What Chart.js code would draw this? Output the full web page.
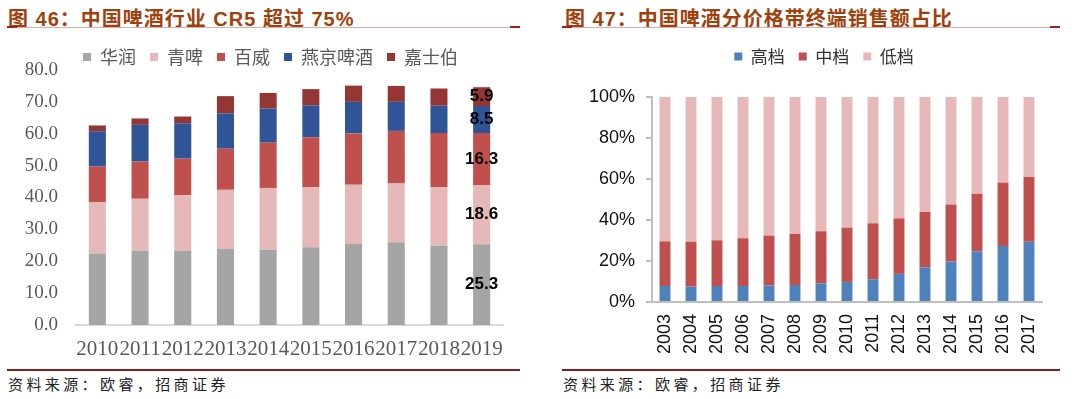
<!DOCTYPE html>
<html>
<head>
<meta charset="utf-8">
<script src="https://cdn.jsdelivr.net/npm/chart.js@4.4.1/dist/chart.umd.min.js"></script>
<style>
  body { margin: 0; width: 1080px; height: 399px; background: #fff; position: relative; overflow: hidden; }
  .title { position: absolute; top: 3px; font: bold 20px "Liberation Sans", "Noto Sans CJK SC", sans-serif; color: #A0410D; white-space: nowrap; letter-spacing: 1px; }
  .tline { position: absolute; top: 27px; height: 1px; background: #E3A9A9; }
  .tline::before, .tline::after { content: ""; position: absolute; top: -1px; width: 10px; height: 2px; background: #A31E1E; }
  .tline::before { left: 0; }
  .tline::after { right: 0; }
  .fline { position: absolute; top: 369px; height: 2px; background: #8B1A1A; }
  .src { position: absolute; top: 373px; font: 15px "Noto Sans CJK SC", sans-serif; color: #222; letter-spacing: 3.4px; white-space: nowrap; }
  canvas { position: absolute; }
</style>
</head>
<body>
<div class="title" style="left:8px">图 46：中国啤酒行业 CR5 超过 75%</div>
<div class="tline" style="left:7px;width:513px"></div>
<div class="title" style="left:565px">图 47：中国啤酒分价格带终端销售额占比</div>
<div class="tline" style="left:562px;width:498px"></div>

<div style="position:absolute;left:0;top:34px;width:540px;height:331px"><canvas id="cr5"></canvas></div>
<div style="position:absolute;left:568px;top:34px;width:512px;height:331px"><canvas id="price"></canvas></div>

<div class="fline" style="left:7px;width:513px"></div>
<div class="src" style="left:8px">资料来源：欧睿，招商证券</div>
<div class="fline" style="left:562px;width:498px"></div>
<div class="src" style="left:563px">资料来源：欧睿，招商证券</div>

<script>
// 图 46 data (share, %)
const years46 = ['2010', '2011', '2012', '2013', '2014', '2015', '2016', '2017', '2018', '2019'];
const huarun = [22.4, 23.3, 23.3, 23.9, 23.6, 24.4, 25.6, 26.0, 24.9, 25.3];
const qingpi = [16.2, 16.3, 17.4, 18.5, 19.4, 18.8, 18.4, 18.4, 18.4, 18.6];
const baiwei = [11.1, 11.7, 11.5, 12.9, 14.2, 15.7, 16.1, 16.5, 16.9, 16.3];
const yanjing = [11.1, 11.5, 11.1, 11.1, 10.7, 10.0, 9.9, 9.1, 8.6, 8.5];
const jiashibo = [1.8, 2.0, 2.1, 5.4, 4.9, 5.1, 5.1, 5.0, 5.4, 5.9];
const yTicks46 = ['0.0', '10.0', '20.0', '30.0', '40.0', '50.0', '60.0', '70.0', '80.0'];

// 图 47 data (share of sales, %)
const years47 = ['2003', '2004', '2005', '2006', '2007', '2008', '2009', '2010', '2011', '2012', '2013', '2014', '2015', '2016', '2017'];
const high = [7.8, 7.5, 7.8, 7.8, 8.1, 8.3, 9.1, 9.8, 11.1, 13.7, 16.9, 19.8, 24.7, 27.3, 29.4];
const mid = [21.8, 21.9, 22.3, 23.3, 24.3, 24.9, 25.4, 26.5, 27.3, 27.1, 27.0, 27.7, 28.1, 30.9, 31.6];
const low = [70.4, 70.6, 69.9, 68.9, 67.6, 66.8, 65.5, 63.7, 61.6, 59.2, 56.1, 52.5, 47.2, 41.8, 39.0];
const yTicks47 = ['0%', '20%', '40%', '60%', '80%', '100%'];

// fix the legend box height (so the plot starts where the picture has it)
// and nudge the legend sideways
const legendGap = {
  id: 'legendGap',
  beforeInit(chart, args, opts) {
    const lg = chart.legend;
    const fit = lg.fit;
    lg.fit = function () {
      fit.call(this);
      this.height = opts.height;
    };
    const draw = lg.draw;
    lg.draw = function () {
      chart.ctx.save();
      chart.ctx.translate(opts.dx || 0, 0);
      draw.call(this);
      chart.ctx.restore();
    };
  }
};

// value labels on the last bar only
const lastLabels = {
  id: 'lastLabels',
  afterDatasetsDraw(chart) {
    const ctx = chart.ctx;
    ctx.save();
    ctx.font = 'bold 17px "Liberation Sans", Arial, sans-serif';
    ctx.fillStyle = '#000';
    ctx.textAlign = 'center';
    ctx.textBaseline = 'middle';
    chart.data.datasets.forEach((ds, i) => {
      const meta = chart.getDatasetMeta(i);
      const idx = ds.data.length - 1;
      const bar = meta.data[idx];
      const p = bar.getProps(['x', 'y', 'base'], true);
      ctx.fillText(ds.data[idx].toFixed(1), p.x, (p.y + p.base) / 2);
    });
    ctx.restore();
  }
};

Chart.defaults.animation = false;
Chart.defaults.responsive = true;
Chart.defaults.maintainAspectRatio = false;

new Chart(document.getElementById('cr5'), {
  type: 'bar',
  data: {
    labels: years46,
    datasets: [
      { label: '华润', data: huarun, backgroundColor: '#A5A5A5' },
      { label: '青啤', data: qingpi, backgroundColor: '#E6B9B8' },
      { label: '百威', data: baiwei, backgroundColor: '#C0504D' },
      { label: '燕京啤酒', data: yanjing, backgroundColor: '#2F5597' },
      { label: '嘉士伯', data: jiashibo, backgroundColor: '#943634' }
    ]
  },
  options: {
    layout: { padding: { right: 37, top: 0, bottom: 0, left: 0 } },
    datasets: { bar: { categoryPercentage: 1, barPercentage: 0.4 } },
    plugins: {
      legendGap: { height: 36, dx: 19 },
      tooltip: { enabled: false },
      legend: {
        labels: { boxWidth: 8, boxHeight: 8, padding: 14, color: '#595959', font: { size: 18, family: '"Noto Sans CJK SC", sans-serif' } }
      }
    },
    scales: {
      x: {
        stacked: true,
        grid: { display: false, drawTicks: false },
        border: { color: '#D9D9D9', width: 2 },
        ticks: { autoSkip: false, maxRotation: 0, padding: 12, color: '#595959', font: { size: 21, family: '"Liberation Serif", serif' } },
        afterFit(s) { s.height = 40; }
      },
      y: {
        stacked: true, min: 0, max: 80,
        grid: { display: false, drawTicks: false },
        border: { display: false },
        ticks: { stepSize: 10, padding: 18, color: '#595959', font: { size: 19, family: '"Liberation Serif", serif' },
          callback: (v, i) => yTicks46[i] },
        afterFit(s) { s.width = 76; }
      }
    }
  },
  plugins: [legendGap, lastLabels]
});

new Chart(document.getElementById('price'), {
  type: 'bar',
  data: {
    labels: years47,
    datasets: [
      { label: '高档', data: high, backgroundColor: '#4F81BD' },
      { label: '中档', data: mid, backgroundColor: '#C0504D' },
      { label: '低档', data: low, backgroundColor: '#E6B9B8' }
    ]
  },
  options: {
    layout: { padding: { right: 38, top: 0, bottom: 0, left: 0 } },
    datasets: { bar: { categoryPercentage: 1, barPercentage: 0.42 } },
    plugins: {
      legendGap: { height: 63, dx: 19 },
      tooltip: { enabled: false },
      legend: {
        labels: { boxWidth: 8, boxHeight: 8, padding: 14, color: '#333', font: { size: 17, family: '"Noto Sans CJK SC", sans-serif' } }
      }
    },
    scales: {
      x: {
        stacked: true,
        grid: { display: false, drawTicks: false },
        border: { color: '#BFBFBF', width: 2 },
        ticks: { autoSkip: false, minRotation: 90, maxRotation: 90, padding: 12, color: '#111', font: { size: 18, family: '"Liberation Sans", Arial, sans-serif' } },
        afterFit(s) { s.height = 63; }
      },
      y: {
        stacked: true, min: 0, max: 100,
        grid: { drawOnChartArea: false, drawTicks: true, tickLength: 6, color: '#BFBFBF', lineWidth: 2 },
        border: { color: '#BFBFBF', width: 2 },
        ticks: { stepSize: 20, padding: 11, color: '#111', font: { size: 18, family: '"Liberation Sans", Arial, sans-serif' },
          callback: (v, i) => yTicks47[i] },
        afterFit(s) { s.width = 84; }
      }
    }
  },
  plugins: [legendGap]
});
</script>
</body>
</html>
